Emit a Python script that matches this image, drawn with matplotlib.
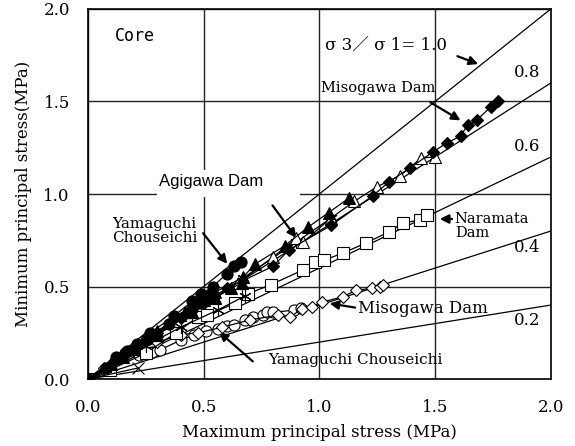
import matplotlib.pyplot as plt
from matplotlib.patches import Rectangle

# ---- data (MPa) ----
ratios = [1.0, 0.8, 0.6, 0.4, 0.2]
ratio_labels = ["0.8", "0.6", "0.4", "0.2"]

# Yamaguchi Chouseichi, filled circles
yc_a_x = [0, 0.12, 0.17, 0.21, 0.27, 0.37, 0.45, 0.49, 0.54, 0.60, 0.63, 0.66]
yc_a_y = [0, 0.12, 0.15, 0.19, 0.25, 0.34, 0.42, 0.46, 0.50, 0.57, 0.61, 0.63]
yc_b_x = [0, 0.08, 0.16, 0.25, 0.35, 0.45, 0.48, 0.50, 0.52]
yc_b_y = [0, 0.06, 0.14, 0.21, 0.30, 0.38, 0.41, 0.44, 0.45]

# Agigawa Dam, filled / open triangles
ag_a_x = [0, 0.10, 0.20, 0.30, 0.42, 0.50, 0.55, 0.67, 0.72, 0.85, 0.95, 1.04, 1.13]
ag_a_y = [0, 0.08, 0.17, 0.26, 0.36, 0.43, 0.47, 0.55, 0.62, 0.72, 0.82, 0.90, 0.98]
ag_b_x = [0, 0.15, 0.30, 0.45, 0.55, 0.62, 0.665]
ag_b_y = [0, 0.12, 0.24, 0.36, 0.44, 0.49, 0.52]
ag_o_x = [0, 0.10, 0.20, 0.30, 0.45, 0.55, 0.65, 0.80, 0.90, 0.93, 1.05, 1.15, 1.25, 1.35, 1.44, 1.50]
ag_o_y = [0, 0.08, 0.16, 0.24, 0.36, 0.44, 0.52, 0.66, 0.76, 0.74, 0.87, 0.96, 1.04, 1.10, 1.195, 1.20]

# asterisk series
as_a_x = [0, 0.10, 0.25, 0.40, 0.56, 0.68]
as_a_y = [0, 0.07, 0.18, 0.28, 0.373, 0.45]
as_b_x = [0, 0.20, 0.40, 0.67, 0.90, 1.05]
as_b_y = [0, 0.17, 0.33, 0.546, 0.74, 0.87]
xm_x = [0, 0.216]
xm_y = [0, 0.06]

# Misogawa Dam, filled diamonds
mi_f_x = [0, 0.10, 0.20, 0.30, 0.40, 0.50, 0.60, 0.80, 0.87, 1.05, 1.23, 1.30, 1.39, 1.49, 1.55, 1.61, 1.64, 1.68, 1.74, 1.77]
mi_f_y = [0, 0.08, 0.16, 0.25, 0.33, 0.41, 0.49, 0.61, 0.70, 0.83, 0.99, 1.065, 1.14, 1.227, 1.275, 1.313, 1.373, 1.40, 1.47, 1.50]

# Naramata Dam, open squares
na_x = [0, 0.095, 0.25, 0.38, 0.475, 0.515, 0.635, 0.69, 0.79, 0.93, 0.98, 1.02, 1.10, 1.20, 1.30, 1.36, 1.435, 1.465]
na_y = [0, 0.05, 0.14, 0.25, 0.335, 0.345, 0.41, 0.46, 0.51, 0.59, 0.633, 0.643, 0.68, 0.735, 0.795, 0.843, 0.86, 0.886]

# Misogawa Dam, open diamonds
mi_o_x = [0, 0.07, 0.19, 0.30, 0.40, 0.475, 0.58, 0.70, 0.82, 0.873, 0.925, 0.966, 1.01, 1.10, 1.16, 1.226, 1.26, 1.275]
mi_o_y = [0, 0.06, 0.15, 0.20, 0.24, 0.25, 0.28, 0.32, 0.345, 0.335, 0.38, 0.39, 0.415, 0.445, 0.48, 0.49, 0.497, 0.508]

# Yamaguchi Chouseichi, open circles
yc_o_x = [0, 0.14, 0.22, 0.275, 0.31, 0.40, 0.46, 0.51, 0.56, 0.60, 0.63, 0.68, 0.715, 0.757, 0.773, 0.80, 0.89, 0.92]
yc_o_y = [0, 0.114, 0.13, 0.146, 0.157, 0.21, 0.24, 0.26, 0.27, 0.286, 0.29, 0.32, 0.336, 0.345, 0.362, 0.36, 0.373, 0.384]

ticks = [0, 0.5, 1.0, 1.5, 2.0]
tick_labels = ["0.0", "0.5", "1.0", "1.5", "2.0"]

serif = ["DejaVu Serif", "Noto Sans CJK JP"]

fig = plt.figure(figsize=(5.75, 4.46), dpi=100)
ax = fig.add_axes([0.153, 0.150, 0.805, 0.830])

# ratio lines
for r in ratios:
    ax.plot([0, 2], [0, 2 * r], color="k", lw=0.9, zorder=2)

def series(x, y, m, filled, ms=8):
    ax.plot(x, y, color="k", lw=0.9, marker=m, ms=ms,
            mfc="k" if filled else "white", mec="k", mew=0.8, zorder=4)

series(yc_o_x, yc_o_y, "o", False)
series(mi_o_x, mi_o_y, "D", False, 6)
series(na_x, na_y, "s", False)
series(xm_x, xm_y, "x", False)
series(as_a_x, as_a_y, (6, 2, 0), False, 9)
series(as_b_x, as_b_y, (6, 2, 0), False, 9)
series(ag_o_x, ag_o_y, "^", False)
series(mi_f_x, mi_f_y, "D", True, 6)
series(ag_a_x, ag_a_y, "^", True)
series(ag_b_x, ag_b_y, "^", True)
series(yc_b_x, yc_b_y, "o", True)
series(yc_a_x, yc_a_y, "o", True)

ax.set_xlim(0, 2)
ax.set_ylim(0, 2)
ax.set_xticks(ticks)
ax.set_yticks(ticks)
ax.set_xticklabels(tick_labels, family=serif, fontsize=12)
ax.set_yticklabels(tick_labels, family=serif, fontsize=12)
ax.tick_params(length=0)
ax.tick_params(axis="x", pad=14)
ax.tick_params(axis="y", pad=13)
ax.grid(True, color="#222222", lw=1.0)
for s in ax.spines.values():
    s.set_linewidth(1.2)

ax.set_xlabel("Maximum principal stress (MPa)", family=serif, fontsize=12, labelpad=6)
ax.set_ylabel("Minimum principal stress(MPa)", family=serif, fontsize=12, labelpad=8)

arrow = dict(arrowstyle="-|>", color="k", lw=1.6, mutation_scale=13)

# labels
ax.text(0.117, 1.854, "Core", family="DejaVu Sans Mono", fontsize=12, va="center")
ax.text(1.024, 1.805, "σ 3／ σ 1= 1.0", family=serif, fontsize=12, va="center")
ax.annotate("", xy=(1.697, 1.697), xytext=(1.585, 1.75), arrowprops=arrow)
for lab, y in zip(ratio_labels, [1.654, 1.254, 0.713, 0.314]):
    ax.text(1.896, y, lab, family=serif, fontsize=12, ha="center", va="center")

ax.text(1.006, 1.573, "Misogawa Dam", family=serif, fontsize=10.5, va="center")
ax.annotate("", xy=(1.62, 1.39), xytext=(1.469, 1.503), arrowprops=arrow)

ax.add_patch(Rectangle((0.298, 0.984), 0.618, 0.146, facecolor="white",
                       edgecolor="none", zorder=2.5))
ax.text(0.531, 1.065, "Agigawa Dam", family="Liberation Sans", fontsize=12,
        ha="center", va="center", zorder=3)
ax.annotate("", xy=(0.907, 0.751), xytext=(0.790, 0.951), arrowprops=arrow)

ax.text(0.104, 0.80, "Yamaguchi\nChouseichi", family=serif, fontsize=11,
        va="center", linespacing=1.05)
ax.annotate("", xy=(0.609, 0.611), xytext=(0.49, 0.80), arrowprops=arrow)

ax.text(1.585, 0.827, "Naramata\nDam", family=serif, fontsize=10.5,
        va="center", linespacing=1.05)
ax.annotate("", xy=(1.508, 0.865), xytext=(1.585, 0.865), arrowprops=arrow)

ax.text(1.166, 0.384, "Misogawa Dam", family=serif, fontsize=12, va="center")
ax.annotate("", xy=(1.032, 0.411), xytext=(1.166, 0.384), arrowprops=arrow)

ax.text(0.778, 0.103, "Yamaguchi Chouseichi", family=serif, fontsize=11, va="center")
ax.annotate("", xy=(0.557, 0.265), xytext=(0.721, 0.086), arrowprops=arrow)

fig.savefig("out.png", dpi=100)
